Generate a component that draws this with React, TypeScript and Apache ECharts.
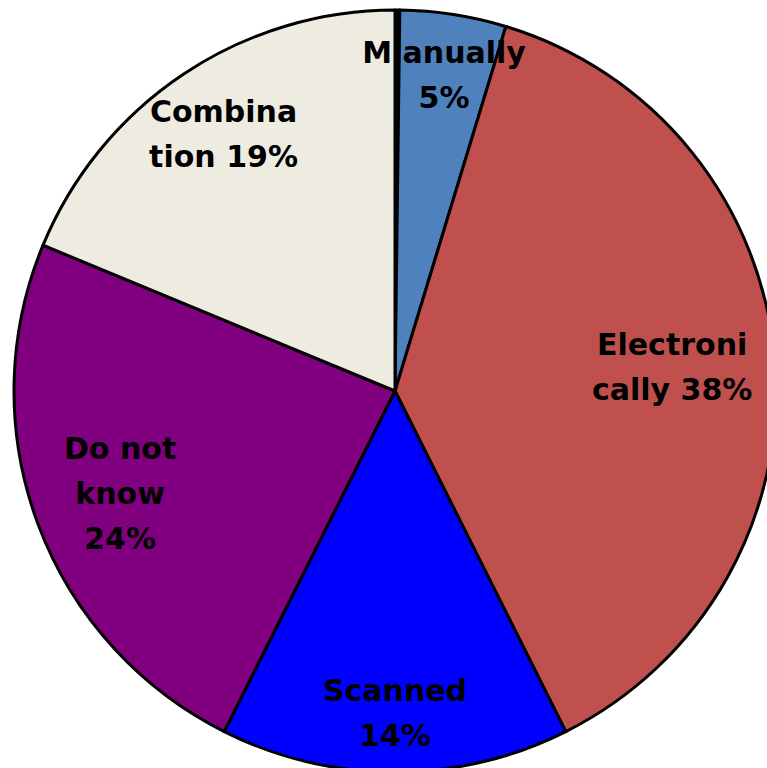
import React, { useEffect, useRef } from "react";
import * as echarts from "echarts";

const categories = ["Other", "Manually", "Electronically", "Scanned", "Do not know", "Combination"];
const values = [0.2, 4.5, 37.9, 14.8, 23.85, 18.75];
const labelTexts = ["", "M anually\n5%", "Electroni\ncally 38%", "Scanned\n14%", "Do not\nknow\n24%", "Combina\ntion 19%"];
const colors = ["#000000", "#4F81BD", "#C0504D", "#0000FF", "#800080", "#EEECE1"];
const labelRadius = [0, 0.84, 0.73, 0.845, 0.77, 0.81];

const CX = 395;
const CY = 391;
const R = 381;

export default function App() {
  const ref = useRef<HTMLDivElement>(null);
  useEffect(() => {
    if (!ref.current) return;
    const chart = echarts.init(ref.current, null, { renderer: "svg" });
    chart.setOption({
      animation: false,
      backgroundColor: "#ffffff",
      series: [
        {
          type: "pie",
          center: [CX, CY],
          radius: [0, R],
          startAngle: 90,
          clockwise: true,
          avoidLabelOverlap: false,
          itemStyle: { borderColor: "#000000", borderWidth: 3 },
          label: {
            show: true,
            position: "inside",
            color: "#000000",
            fontFamily: "DejaVu Sans",
            fontWeight: "bold",
            fontSize: 30,
            lineHeight: 45,
            align: "center",
            formatter: (p: any) => labelTexts[p.dataIndex],
          },
          labelLine: { show: false },
          labelLayout: (p: any) => {
            const k = labelRadius[p.dataIndex];
            if (!k) return {};
            const lr = p.labelRect;
            const lx = lr.x + lr.width / 2;
            const ly = lr.y + lr.height / 2;
            const vx = lx - CX;
            const vy = ly - CY;
            const len = Math.sqrt(vx * vx + vy * vy) || 1;
            const s = (k * R) / len;
            return { dx: vx * s - vx, dy: vy * s - vy };
          },
          data: categories.map((name, i) => ({
            name,
            value: values[i],
            itemStyle: { color: colors[i] },
            label: { show: labelTexts[i] !== "" },
          })),
        },
      ],
    });
    return () => chart.dispose();
  }, []);
  return (
    <div
      ref={ref}
      style={{ position: "fixed", left: 0, top: 0, width: 767, height: 768 }}
    />
  );
}
